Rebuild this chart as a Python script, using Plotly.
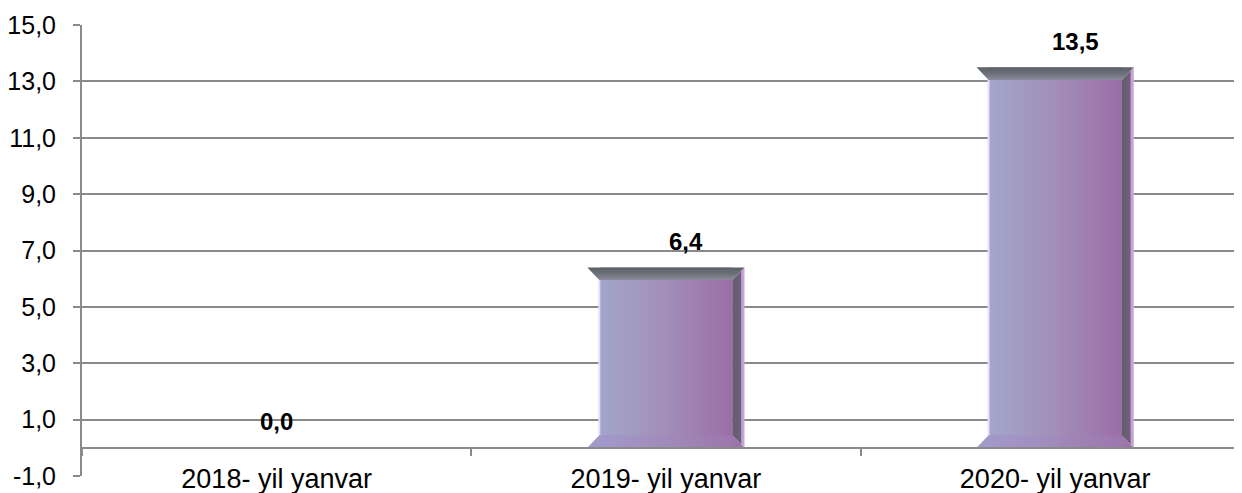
import plotly.graph_objects as go

categories = ["2018- yil yanvar", "2019- yil yanvar", "2020- yil yanvar"]
values = [0.0, 6.4, 13.5]
value_labels = ["0,0", "6,4", "13,5"]
y_ticks = [-1, 1, 3, 5, 7, 9, 11, 13, 15]
y_tick_text = [("%.1f" % t).replace(".", ",") for t in y_ticks]

GRID = "#8a8a8a"
FONT = "Arial, Liberation Sans, sans-serif"

bar_w = 0.404      # bar width in category units
bx = 0.031         # horizontal bevel (category units)
by = 0.45          # vertical bevel (value units)

fig = go.Figure()
xs = list(range(len(categories)))

# main bar faces (library bars)
fig.add_trace(go.Bar(
    x=xs, y=values, width=bar_w - 2 * bx,
    marker=dict(color="#a08cb8", line=dict(width=0)),
    hoverinfo="skip", showlegend=False,
))

for i, v in enumerate(values):
    if v <= 0:
        continue
    L, R = i - bar_w / 2, i + bar_w / 2
    # face gradient
    fig.add_trace(go.Scatter(
        x=[L + bx, R - bx, R - bx, L + bx, L + bx],
        y=[by * 0.5, by * 0.5, v - by, v - by, by * 0.5],
        mode="lines", line=dict(width=0), fill="toself",
        fillgradient=dict(type="horizontal",
                          colorscale=[[0, "#a2a6ca"], [0.5, "#a28eb9"], [1, "#9b6ea6"]]),
        hoverinfo="skip", showlegend=False))
    # bottom bevel
    fig.add_trace(go.Scatter(
        x=[L, R, R - bx, L + bx, L],
        y=[0, 0, by, by, 0],
        mode="lines", line=dict(width=0), fill="toself",
        fillgradient=dict(type="horizontal",
                          colorscale=[[0, "#a29ccb"], [0.5, "#a08bbb"], [1, "#9c72aa"]]),
        hoverinfo="skip", showlegend=False))
    # right bevel
    fig.add_trace(go.Scatter(
        x=[R - bx, R, R, R - bx, R - bx],
        y=[by, 0, v, v - by, by],
        mode="lines", line=dict(width=0), fill="toself",
        fillgradient=dict(type="horizontal",
                          colorscale=[[0, "#625d6e"], [0.7, "#705f7c"],
                                      [0.76, "#c29fd5"], [1, "#caa8db"]]),
        hoverinfo="skip", showlegend=False))
    # top bevel
    fig.add_trace(go.Scatter(
        x=[L, R, R - bx, L + bx, L],
        y=[v, v, v - by, v - by, v],
        mode="lines", line=dict(width=0), fill="toself",
        fillgradient=dict(type="vertical",
                          colorscale=[[0, "#8c8a9c"], [0.5, "#6c7078"], [1, "#5a6166"]]),
        hoverinfo="skip", showlegend=False))
    # left highlight
    fig.add_trace(go.Scatter(
        x=[L + bx, L + bx], y=[by, v - by],
        mode="lines", line=dict(width=2, color="#e4defa"),
        hoverinfo="skip", showlegend=False))

for i, (v, t) in enumerate(zip(values, value_labels)):
    fig.add_annotation(
        x=i, y=v, text="<b>%s</b>" % t, showarrow=False,
        yanchor="middle", yshift=26, xshift=20 if v > 0 else 0,
        font=dict(family=FONT, size=24, color="black"))

# the page body adds an 8px offset, so the figure is sized to end at the window edge
fig.update_layout(
    width=1234, height=485,
    margin=dict(l=74, r=0, t=17, b=17),
    paper_bgcolor="white", plot_bgcolor="white",
    font=dict(family=FONT, color="black"),
    showlegend=False,
    xaxis=dict(
        type="linear", range=[-0.5, 2.48], automargin=False,
        anchor="free", position=1 / 16,
        showline=True, linecolor=GRID, linewidth=2,
        showgrid=False, zeroline=False,
        tickmode="array", tickvals=xs, ticktext=categories,
        ticks="", ticklabelstandoff=7,
        tickfont=dict(family=FONT, size=27, color="black"),
        minor=dict(tickmode="array", tickvals=[-0.5, 0.5, 1.5],
                   ticks="outside", ticklen=7, tickwidth=2, tickcolor=GRID, showgrid=False),
    ),
    yaxis=dict(
        range=[-1, 15], tickmode="array", tickvals=y_ticks, ticktext=y_tick_text,
        automargin=False,
        showgrid=True, gridcolor=GRID, gridwidth=2,
        showline=True, linecolor=GRID, linewidth=2,
        zeroline=False,
        ticks="outside", ticklen=7, tickwidth=2, tickcolor=GRID,
        ticklabelstandoff=12,
        tickfont=dict(family=FONT, size=25, color="black"),
    ),
)

fig.write_html("out.html")
